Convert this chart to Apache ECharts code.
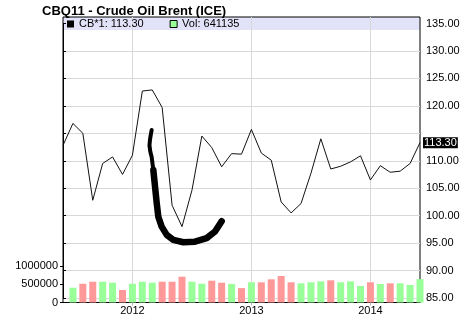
<!DOCTYPE html>
<html>
<head>
<meta charset="utf-8">
<script src="https://cdn.jsdelivr.net/npm/echarts@6/dist/echarts.min.js"></script>
<style>html,body{margin:0;padding:0;background:#fff}#c{width:476px;height:322px}</style>
</head>
<body>
<div id="c"></div>
<script>
// ---- data ----
const titleText = 'CBQ11 - Crude Oil Brent (ICE)';
const months = ['2011-06','2011-07','2011-08','2011-09','2011-10','2011-11','2011-12',
  '2012-01','2012-02','2012-03','2012-04','2012-05','2012-06','2012-07','2012-08','2012-09','2012-10','2012-11','2012-12',
  '2013-01','2013-02','2013-03','2013-04','2013-05','2013-06','2013-07','2013-08','2013-09','2013-10','2013-11','2013-12',
  '2014-01','2014-02','2014-03','2014-04','2014-05','2014-06'];
const price = [112.8,116.8,115.0,102.8,109.5,110.7,107.5,
  111.0,122.7,122.9,119.7,101.9,98.0,104.6,114.5,112.4,108.9,111.3,111.2,
  115.7,111.4,110.1,102.5,100.5,102.2,107.7,114.0,108.5,109.0,109.8,110.9,
  106.5,109.1,107.9,108.1,109.5,113.3];
const volume = [null,406000,516000,571000,571000,544000,343000,
  516000,571000,544000,571000,571000,709000,571000,516000,599000,544000,510000,395000,
  555000,555000,637000,728000,555000,527000,555000,582000,610000,555000,582000,453000,
  555000,508000,527000,527000,481000,641135];
// hand-drawn annotation stroke (month index, price)
const strokeX = [8.94,8.85,8.77,8.72,8.80,8.94,9.11,9.28,9.45,9.61,9.95,10.46,11.12,12.13,13.31,14.49,15.33,16.0];
const strokeY = [115.6,114.7,113.8,112.8,111.7,110.7,108.3,105.3,102.3,99.8,98.0,96.5,95.6,95.15,95.25,95.9,97.1,99.0];
const priceTicks = {min: 85, max: 135, step: 5, hidden: 115};
const volTicks = {min: 0, max: 1000000, step: 500000};

// ---- chart ----
const UP = '#99ff99', DOWN = '#ff9999';
const lastPrice = price[price.length - 1];
const lastVol = volume[volume.length - 1];
const lineName = 'CB*1: ' + lastPrice.toFixed(2);
const volName = 'Vol: ' + lastVol;
const volData = volume.map((v, i) => v == null ? null : {
  value: v, itemStyle: {color: price[i] >= price[i - 1] ? UP : DOWN}
});
const strokeData = strokeX.map((x, i) => [x, strokeY[i]]);
const isJan = (idx, val) => String(val).slice(5) === '01';

const L = 63, R = 56;
const chart = echarts.init(document.getElementById('c'), null, {renderer: 'canvas'});
chart.setOption({
  animation: false,
  textStyle: {fontFamily: 'Liberation Sans', color: '#000'},
  title: {
    text: titleText, left: 42, top: 4.5, padding: 0,
    textStyle: {fontSize: 13, fontWeight: 'bold', color: '#000', fontFamily: 'Liberation Sans', lineHeight: 14}
  },
  legend: {
    left: 67, top: 18.5, padding: 0, icon: 'rect', itemWidth: 7, itemHeight: 7, itemGap: 26,
    selectedMode: false,
    textStyle: {fontSize: 11, color: '#000', fontFamily: 'Liberation Sans'},
    data: [
      {name: lineName, itemStyle: {color: '#000'}},
      {name: volName, itemStyle: {color: UP, borderColor: '#000', borderWidth: 1}}
    ]
  },
  grid: [
    {left: L, right: R, top: 17, height: 13, show: true, backgroundColor: '#e2e2f8', borderWidth: 0},
    {left: L, right: R, top: 17, height: 285.5, show: true, backgroundColor: 'transparent', borderColor: '#000', borderWidth: 1},
    {left: L, right: R, top: 23.5, height: 274.5},
    {left: L, right: R, top: 266.1, height: 36.4}
  ],
  xAxis: [
    {gridIndex: 0, type: 'category', data: months, show: false},
    {gridIndex: 1, type: 'category', data: months, boundaryGap: false,
      axisLine: {show: true, lineStyle: {color: '#000'}},
      axisTick: {show: true, interval: isJan, length: 3, lineStyle: {color: '#bbb'}},
      axisLabel: {interval: isJan, formatter: v => v.slice(0, 4), fontSize: 11, color: '#000', margin: 3},
      splitLine: {show: true, interval: isJan, lineStyle: {color: '#d8d8d8'}}},
    {gridIndex: 2, type: 'category', data: months, boundaryGap: false, show: false},
    {gridIndex: 2, type: 'value', min: 0, max: months.length - 1, show: false},
    {gridIndex: 3, type: 'category', data: months, boundaryGap: false, show: false}
  ],
  yAxis: [
    {gridIndex: 0, type: 'value', show: false},
    {gridIndex: 1, type: 'value', show: false},
    {gridIndex: 2, type: 'value', position: 'right', min: priceTicks.min, max: priceTicks.max, interval: priceTicks.step,
      axisLine: {show: true, lineStyle: {color: '#000'}},
      axisTick: {show: true, length: 3, lineStyle: {color: '#000'}},
      axisLabel: {formatter: v => v === priceTicks.hidden ? '' : v.toFixed(2), fontSize: 11, color: '#000', margin: 6},
      splitLine: {show: true, showMaxLine: false, lineStyle: {color: '#d8d8d8'}}},
    {gridIndex: 3, type: 'value', position: 'left', min: volTicks.min, max: volTicks.max, interval: volTicks.step,
      axisLine: {show: false},
      axisTick: {show: true, length: 3, lineStyle: {color: '#000'}},
      axisLabel: {formatter: v => String(v), fontSize: 11, color: '#000', margin: 5},
      splitLine: {show: false}}
  ],
  series: [
    {name: volName, type: 'bar', xAxisIndex: 4, yAxisIndex: 3, data: volData, barWidth: 7,
      itemStyle: {color: UP}},
    {name: lineName, type: 'line', xAxisIndex: 2, yAxisIndex: 2, data: price, showSymbol: false,
      lineStyle: {color: '#111', width: 1}, itemStyle: {color: '#000'},
      endLabel: {show: true, formatter: () => lastPrice.toFixed(2), backgroundColor: '#000', color: '#fff',
        fontSize: 11, lineHeight: 11, padding: [0, 1, 0, 1], distance: 3}},
    {type: 'line', xAxisIndex: 3, yAxisIndex: 2, data: strokeData.slice(0, 8), showSymbol: false,
      lineStyle: {color: '#000', width: 4, cap: 'round', join: 'round'}, silent: true, z: 3},
    {type: 'line', xAxisIndex: 3, yAxisIndex: 2, data: strokeData.slice(6), showSymbol: false,
      lineStyle: {color: '#000', width: 6.5, cap: 'round', join: 'round'}, silent: true, z: 3}
  ]
});
</script>
</body>
</html>
